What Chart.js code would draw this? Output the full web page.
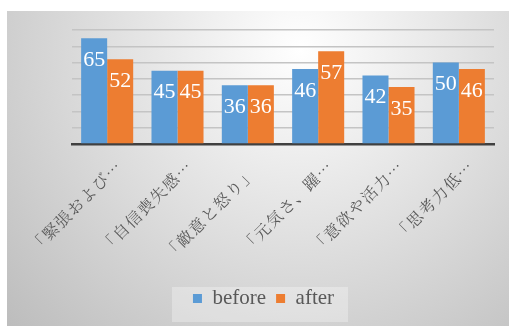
<!DOCTYPE html>
<html>
<head>
<meta charset="utf-8">
<script src="https://cdn.jsdelivr.net/npm/chart.js@4"></script>
<style>
	html, body { margin: 0; padding: 0; background: #ffffff; }
	#wrap { width: 509px; height: 326px; }
</style>
</head>
<body>
<div id="wrap"><canvas id="moodChart"></canvas></div>
<script>
const categories = ['「緊張および…', '「自信喪失感…', '「敵意と怒り」　', '「元気さ、躍…', '「意欲や活力…', '「思考力低…'];
const beforeValues = [65, 45, 36, 46, 42, 50];
const afterValues = [52, 45, 36, 57, 35, 46];
const seriesNames = ['before', 'after'];

const serifFont = '"Liberation Serif", serif';

const backgroundPlugin = {
	id: 'frameBackground',
	afterLayout(chart) {
		// legend sits a little right of centre in the original
		chart.legend.left += 13;
		chart.legend.right += 13;
	},
	beforeDraw(chart) {
		const ctx = chart.ctx;
		ctx.save();
		ctx.fillStyle = '#ffffff';
		ctx.fillRect(0, 0, chart.width, chart.height);
		const grad = ctx.createRadialGradient(300, 50, 0, 300, 50, 400);
		grad.addColorStop(0, '#ffffff');
		grad.addColorStop(1, '#bdbdbd');
		ctx.fillStyle = grad;
		ctx.fillRect(7, 11, chart.width - 7, chart.height - 11);
		ctx.fillStyle = 'rgba(255,255,255,0.3)';
		ctx.fillRect(172, 287, 176, 35);
		ctx.restore();
	}
};

const valueLabelPlugin = {
	id: 'valueLabels',
	afterDatasetsDraw(chart) {
		const ctx = chart.ctx;
		ctx.save();
		ctx.fillStyle = '#ffffff';
		ctx.font = '22px ' + serifFont;
		ctx.textAlign = 'center';
		ctx.textBaseline = 'middle';
		chart.data.datasets.forEach((ds, i) => {
			chart.getDatasetMeta(i).data.forEach((bar, j) => {
				ctx.fillText(`${ds.data[j]}`, bar.x, bar.y + 22);
			});
		});
		ctx.restore();
	}
};

new Chart(document.getElementById('moodChart'), {
	type: 'bar',
	data: {
		labels: categories,
		datasets: [{
			label: seriesNames[0],
			data: beforeValues,
			backgroundColor: '#5b9bd5',
			categoryPercentage: 0.74,
			barPercentage: 1.0
		}, {
			label: seriesNames[1],
			data: afterValues,
			backgroundColor: '#ed7d31',
			categoryPercentage: 0.74,
			barPercentage: 1.0
		}]
	},
	options: {
		responsive: true,
		maintainAspectRatio: false,
		animation: false,
		layout: {
			padding: { left: 7, right: 15, top: 30, bottom: 7 }
		},
		plugins: {
			tooltip: { enabled: false },
			legend: {
				position: 'bottom',
				labels: {
					boxWidth: 9,
					boxHeight: 9,
					padding: 10,
					color: '#595959',
					font: { family: serifFont, size: 21 }
				}
			}
		},
		scales: {
			x: {
				afterFit(scale) {
					scale.height = 134;
					scale.paddingLeft = 0;
					scale.paddingRight = 0;
					if (!scale._spaced) {
						// wider letter spacing like the original labels
						const draw = scale.drawLabels;
						scale.drawLabels = function(area) {
							this.ctx.letterSpacing = '1.5px';
							draw.call(this, area);
							this.ctx.letterSpacing = '0px';
						};
						scale._spaced = true;
					}
				},
				grid: { display: false },
				border: { color: '#404040', width: 2.5 },
				ticks: {
					autoSkip: false,
					maxRotation: 45,
					minRotation: 45,
					labelOffset: 12,
					padding: 4,
					color: '#595959',
					font: { family: '"Noto Serif CJK JP"', size: 16 }
				}
			},
			y: {
				min: 0,
				max: 70,
				afterFit(scale) {
					scale.width = 65;
				},
				ticks: { display: false, stepSize: 10 },
				grid: { color: '#c4c4c4', lineWidth: 1.5, drawTicks: false },
				border: { display: false }
			}
		}
	},
	plugins: [backgroundPlugin, valueLabelPlugin]
});
</script>
</body>
</html>
